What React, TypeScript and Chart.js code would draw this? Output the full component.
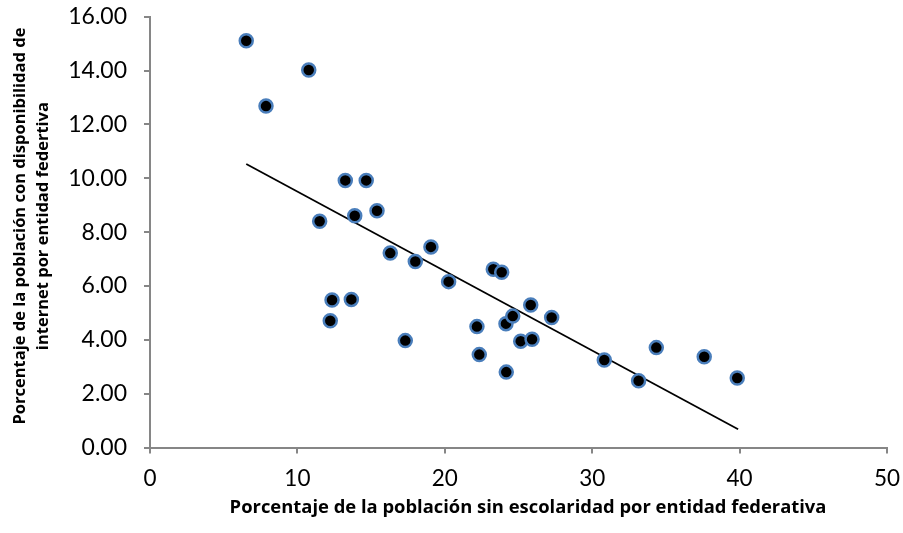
import { useEffect, useRef } from 'react';
import { Chart, registerables } from 'chart.js';
Chart.register(...registerables);

const sinEscolaridad = [6.53, 7.87, 10.77, 13.25, 14.67, 11.51, 13.89, 15.4, 16.3, 19.06, 18.0, 12.35, 13.66, 12.23, 17.32, 20.26, 23.29, 23.86, 22.18, 22.34, 24.15, 24.61, 24.17, 25.15, 25.83, 25.92, 27.25, 30.82, 33.15, 34.35, 37.6, 39.84];
const conInternet = [15.11, 12.68, 14.02, 9.92, 9.92, 8.4, 8.61, 8.79, 7.22, 7.45, 6.91, 5.48, 5.5, 4.71, 3.97, 6.16, 6.62, 6.51, 4.49, 3.45, 4.6, 4.88, 2.8, 3.95, 5.29, 4.02, 4.83, 3.25, 2.48, 3.71, 3.37, 2.58];
const trendX = [6.53, 39.9];
const trendY = [10.53, 0.68];
const xTitle = 'Porcentaje de la población sin escolaridad por entidad federativa';
const yTitleLines = ['Porcentaje de la población con disponibilidad de', 'internet por entidad federtiva'];

const AXIS = '#868686';
const TICK_FONT = 'Lato, "Open Sans", sans-serif';
const TITLE_FONT = '"Open Sans", Lato, sans-serif';

const titlesPlugin = {
  id: 'customTitles',
  afterDraw(chart: any) {
    const { ctx, chartArea } = chart;
    ctx.save();
    ctx.fillStyle = '#000';
    ctx.textAlign = 'center';
    ctx.textBaseline = 'middle';
    ctx.font = `bold 18.4px ${TITLE_FONT}`;
    ctx.fillText(xTitle, chartArea.left + 378, chartArea.bottom + 60);
    ctx.font = `bold 16.5px ${TITLE_FONT}`;
    const cy = (chartArea.top + chartArea.bottom) / 2 - 6;
    ctx.translate(0, cy);
    ctx.rotate(-Math.PI / 2);
    ctx.fillText(yTitleLines[0], 0, 20);
    ctx.fillText(yTitleLines[1], 0, 43);
    ctx.restore();
  },
};

export default function App() {
  const ref = useRef<HTMLCanvasElement | null>(null);
  useEffect(() => {
    if (!ref.current) return;
    const points = sinEscolaridad.map((x, i) => ({ x, y: conInternet[i] }));
    const trend = trendX.map((x, i) => ({ x, y: trendY[i] }));
    const chart = new Chart(ref.current, {
      type: 'scatter',
      data: {
        datasets: [
          {
            data: points,
            backgroundColor: '#000000',
            borderColor: '#4A7EBB',
            borderWidth: 2.5,
            pointRadius: 6.5,
            order: 0,
          },
          {
            type: 'line',
            data: trend,
            borderColor: '#000000',
            borderWidth: 1.75,
            pointRadius: 0,
            fill: false,
            showLine: true,
            order: 1,
          } as any,
        ],
      },
      options: {
        animation: false,
        responsive: false,
        layout: { padding: { top: 16.7, right: 16, left: 0, bottom: 0 } },
        plugins: { legend: { display: false }, tooltip: { enabled: false } },
        scales: {
          x: {
            type: 'linear',
            min: 0,
            max: 50,
            afterFit(scale: any) {
              scale.height = 85.5;
              scale.paddingLeft = 0;
              scale.paddingRight = 0;
            },
            ticks: { stepSize: 10, color: '#000', padding: 12, font: { family: TICK_FONT, size: 22.5 } },
            grid: { drawOnChartArea: false, drawTicks: true, tickLength: 6, color: AXIS, lineWidth: 2 },
            border: { color: AXIS, width: 2 },
          },
          y: {
            type: 'linear',
            min: 0,
            max: 16,
            afterFit(scale: any) {
              scale.width = 150;
              scale.paddingTop = 0;
              scale.paddingBottom = 0;
            },
            ticks: {
              stepSize: 2,
              color: '#000',
              padding: 17,
              font: { family: TICK_FONT, size: 23 },
              callback: (v: any) => Number(v).toFixed(2),
            },
            grid: { drawOnChartArea: false, drawTicks: true, tickLength: 6, color: AXIS, lineWidth: 2 },
            border: { color: AXIS, width: 2 },
          },
        },
      },
      plugins: [titlesPlugin],
    });
    return () => chart.destroy();
  }, []);
  return (
    <div style={{ position: 'fixed', left: 0, top: 0, width: 903, height: 533, background: '#fff' }}>
      <canvas ref={ref} width={903} height={533} style={{ width: 903, height: 533, display: 'block' }} />
    </div>
  );
}
